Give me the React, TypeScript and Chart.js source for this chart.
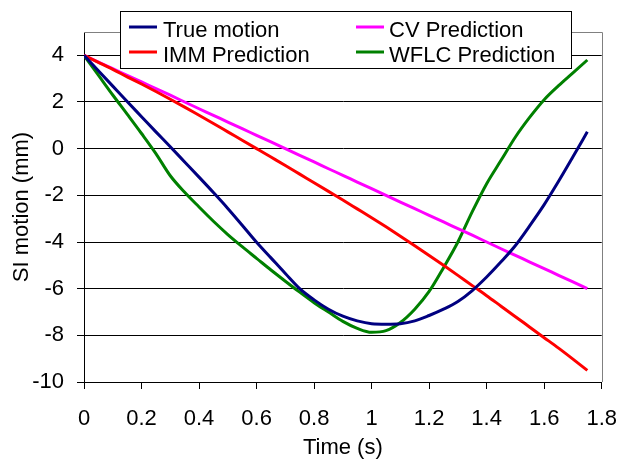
import React, { useEffect, useRef } from 'react';
import { Chart, registerables } from 'chart.js';

Chart.register(...registerables);

const timeS = [
  0, 0.05, 0.1, 0.15, 0.2, 0.25, 0.3, 0.35, 0.4, 0.45, 0.5, 0.55, 0.6, 0.65, 0.7, 0.75, 0.8, 0.85,
  0.9, 0.95, 1.0, 1.05, 1.1, 1.15, 1.2, 1.25, 1.3, 1.35, 1.4, 1.45, 1.5, 1.55, 1.6, 1.65, 1.7, 1.75,
];

const trueMotion = [
  4, 3.34, 2.68, 2.02, 1.37, 0.72, 0.08, -0.57, -1.22, -1.88, -2.56, -3.28, -4.01, -4.68, -5.35, -6.0, -6.48, -6.88,
  -7.18, -7.38, -7.5, -7.52, -7.5, -7.38, -7.15, -6.88, -6.55, -6.08, -5.5, -4.85, -4.15, -3.3, -2.4, -1.4, -0.35, 0.72,
];

const immPrediction = [
  4, 3.7, 3.4, 3.08, 2.77, 2.45, 2.12, 1.78, 1.43, 1.08, 0.72, 0.36, 0.0, -0.36, -0.72, -1.09, -1.46, -1.83,
  -2.2, -2.58, -2.96, -3.35, -3.75, -4.16, -4.58, -5.0, -5.43, -5.87, -6.3, -6.75, -7.2, -7.65, -8.1, -8.55, -9.02, -9.5,
];

const cvPrediction = [
  4, 3.71, 3.43, 3.14, 2.86, 2.57, 2.29, 2.0, 1.71, 1.43, 1.14, 0.86, 0.57, 0.29, 0.0, -0.29, -0.57, -0.86,
  -1.14, -1.43, -1.71, -2.0, -2.29, -2.57, -2.86, -3.14, -3.43, -3.71, -4.0, -4.29, -4.57, -4.86, -5.14, -5.43, -5.71, -6.0,
];

const wflcPrediction = [
  4, 3.15, 2.3, 1.48, 0.65, -0.21, -1.16, -1.87, -2.5, -3.11, -3.68, -4.2, -4.7, -5.2, -5.68, -6.15, -6.6, -7.0,
  -7.4, -7.7, -7.87, -7.8, -7.45, -6.88, -6.12, -5.1, -4.0, -2.7, -1.5, -0.5, 0.5, 1.35, 2.1, 2.7, 3.25, 3.8,
];

const xTickValues = [0, 0.2, 0.4, 0.6, 0.8, 1, 1.2, 1.4, 1.6, 1.8];
const yTickValues = [-10, -8, -6, -4, -2, 0, 2, 4];

const seriesLabels = ['True motion', 'IMM Prediction', 'CV Prediction', 'WFLC Prediction'];
const seriesColors = ['#000080', '#FF0000', '#FF00FF', '#008000'];
const seriesValues = [trueMotion, immPrediction, cvPrediction, wflcPrediction];

const FONT = '"Liberation Sans", Arial, sans-serif';

const frameAndLegend = {
  id: 'frameAndLegend',
  beforeDatasetsDraw(chart: any) {
    const { ctx, chartArea } = chart;
    ctx.save();
    ctx.strokeStyle = '#808080';
    ctx.lineWidth = 1;
    ctx.beginPath();
    ctx.moveTo(chartArea.left, Math.round(chartArea.top) + 0.5);
    ctx.lineTo(Math.round(chartArea.right) + 0.5, Math.round(chartArea.top) + 0.5);
    ctx.lineTo(Math.round(chartArea.right) + 0.5, chartArea.bottom);
    ctx.stroke();
    ctx.restore();
  },
  afterDraw(chart: any) {
    const { ctx } = chart;
    const ds = chart.data.datasets;
    ctx.save();
    const bx = 120.5, by = 11.5, bw = 451, bh = 57;
    ctx.fillStyle = '#ffffff';
    ctx.fillRect(bx, by, bw, bh);
    ctx.strokeStyle = '#000000';
    ctx.lineWidth = 1;
    ctx.strokeRect(bx, by, bw, bh);
    const cols = [{ lx: 129, tx: 163 }, { lx: 356, tx: 389 }];
    const rows = [27, 52];
    ctx.font = `22px ${FONT}`;
    ctx.textBaseline = 'alphabetic';
    ctx.textAlign = 'left';
    ds.forEach((d: any, i: number) => {
      const c = cols[Math.floor(i / 2)];
      const r = rows[i % 2];
      ctx.strokeStyle = d.borderColor;
      ctx.lineWidth = 3;
      ctx.lineCap = 'butt';
      ctx.beginPath();
      ctx.moveTo(c.lx, r);
      ctx.lineTo(c.lx + 28, r);
      ctx.stroke();
      ctx.fillStyle = '#000000';
      ctx.fillText(d.label, c.tx, r + 9.5);
    });
    ctx.restore();
  },
};

export default function App() {
  const canvasRef = useRef<HTMLCanvasElement | null>(null);

  useEffect(() => {
    document.body.style.margin = '0';
    const canvas = canvasRef.current;
    if (!canvas) return;
    const chart = new Chart(canvas, {
      type: 'line',
      data: {
        datasets: seriesLabels.map((label, i) => ({
          label,
          data: timeS.map((t, j) => ({ x: t, y: seriesValues[i][j] })),
          borderColor: seriesColors[i],
          backgroundColor: seriesColors[i],
          borderWidth: 3,
          pointRadius: 0,
          fill: false,
          cubicInterpolationMode: 'monotone' as const,
        })),
      },
      options: {
        responsive: false,
        animation: false,
        devicePixelRatio: 1,
        layout: { padding: { top: 32, right: 32, left: 0, bottom: 0 } },
        plugins: {
          legend: { display: false },
          tooltip: { enabled: false },
        },
        scales: {
          x: {
            type: 'linear',
            min: 0,
            max: 1.8,
            afterBuildTicks: (s: any) => {
              s.ticks = xTickValues.map((v) => ({ value: v }));
            },
            afterFit: (s: any) => {
              s.height = 77;
            },
            grid: { drawOnChartArea: false, drawTicks: true, tickLength: 7, color: '#000000' },
            border: { color: '#000000', width: 1 },
            ticks: {
              autoSkip: false,
              maxRotation: 0,
              padding: 17,
              color: '#000000',
              font: { family: FONT, size: 22 },
              callback: (v: any) => String(Math.round(Number(v) * 10) / 10),
            },
            title: {
              display: true,
              text: 'Time (s)',
              color: '#000000',
              font: { family: FONT, size: 22 },
              padding: { top: 0, bottom: -2 },
            },
          },
          y: {
            type: 'linear',
            min: -10,
            max: 5,
            afterBuildTicks: (s: any) => {
              s.ticks = yTickValues.map((v) => ({ value: v }));
            },
            afterFit: (s: any) => {
              s.width = 84;
            },
            grid: { drawOnChartArea: true, drawTicks: true, tickLength: 7, color: '#000000' },
            border: { color: '#000000', width: 1 },
            ticks: {
              padding: 13,
              color: '#000000',
              font: { family: FONT, size: 22 },
              callback: (v: any) => String(v),
            },
            title: {
              display: true,
              text: 'SI motion (mm)',
              color: '#000000',
              font: { family: FONT, size: 22 },
              padding: { top: 9, bottom: 0 },
            },
          },
        },
      },
      plugins: [frameAndLegend],
    });
    return () => chart.destroy();
  }, []);

  return (
    <div style={{ position: 'absolute', left: 0, top: 0, width: 634, height: 459, background: '#fff' }}>
      <canvas ref={canvasRef} width={634} height={459} style={{ display: 'block', width: 634, height: 459 }} />
    </div>
  );
}
